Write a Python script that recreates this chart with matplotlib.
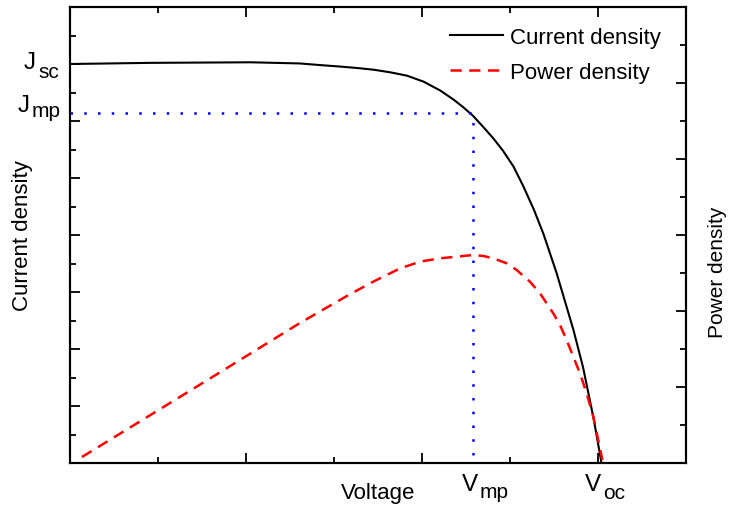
import numpy as np
import matplotlib.pyplot as plt
from matplotlib.ticker import MultipleLocator, NullFormatter

plt.rcParams['font.family'] = ['Liberation Sans', 'DejaVu Sans']

# curva J-V (tensao, densidade de corrente)
tensao_j = [0.0, 0.091, 0.205, 0.261, 0.285, 0.307, 0.326, 0.345, 0.364,
            0.383, 0.402, 0.421, 0.436, 0.447, 0.458, 0.470, 0.481, 0.492,
            0.504, 0.515, 0.527, 0.538, 0.553, 0.572, 0.583, 0.595, 0.604]
corrente = [7.00, 7.02, 7.03, 7.01, 6.98, 6.955, 6.93, 6.90, 6.854,
            6.795, 6.689, 6.532, 6.374, 6.240, 6.09, 5.889, 5.696, 5.479,
            5.20, 4.86, 4.45, 4.02, 3.33, 2.34, 1.68, 0.78, 0.0]

# curva de potencia (eixo da direita)
tensao_p = [0.0136, 0.156, 0.261, 0.318, 0.347, 0.375, 0.398, 0.4205, 0.4394,
            0.4583, 0.4697, 0.481, 0.4962, 0.5076, 0.5227, 0.5341, 0.5417,
            0.5492, 0.5568, 0.5644, 0.5719, 0.5795, 0.5871, 0.5947, 0.605]
potencia = [0.079, 1.09, 1.84, 2.22, 2.40, 2.56, 2.65, 2.693, 2.715,
            2.737, 2.724, 2.693, 2.628, 2.539, 2.385, 2.232, 2.101,
            1.969, 1.816, 1.618, 1.399, 1.180, 0.917, 0.609, 0.04]

# pontos especiais
v_mp = 0.458
j_mp = 6.14
j_sc = 7.02
v_oc = 0.603

fig = plt.figure(figsize=(7.29, 5.06), dpi=100)
ax = fig.add_axes([70/729, 42/506, 616/729, 456/506])
ax2 = ax.twinx()

l1, = ax.plot(tensao_j, corrente, color='black', lw=1.5, label='Current density')
ax.plot([0, v_mp, v_mp], [j_mp, j_mp, 0], color='blue', lw=1.8,
        linestyle=(0, (1, 4.5)))
l2, = ax2.plot(tensao_p, potencia, color='red', lw=1.8,
               linestyle=(0, (4.5, 3)), label='Power density')

ax.set_xlim(0, 0.7)
ax.set_ylim(0, 8)
ax2.set_ylim(0, 6)

ax.xaxis.set_major_locator(MultipleLocator(0.2))
ax.xaxis.set_minor_locator(MultipleLocator(0.1))
ax.yaxis.set_major_locator(MultipleLocator(1))
ax.yaxis.set_minor_locator(MultipleLocator(0.5))
ax2.yaxis.set_major_locator(MultipleLocator(1))
ax2.yaxis.set_minor_locator(MultipleLocator(0.5))
for a in (ax, ax2):
    a.xaxis.set_major_formatter(NullFormatter())
    a.yaxis.set_major_formatter(NullFormatter())
    for s in a.spines.values():
        s.set_linewidth(1.5)

ax.tick_params(which='both', direction='in', top=True, right=False, width=1.3)
ax.tick_params(which='major', length=7)
ax.tick_params(which='minor', length=4)
ax2.tick_params(which='both', direction='in', width=1.3)
ax2.tick_params(which='major', length=7)
ax2.tick_params(which='minor', length=4)

ax.set_xlabel('Voltage', fontsize=16)
ax.xaxis.set_label_coords(0.5, -0.041)
ax.set_ylabel('Current density', fontsize=16)
ax.yaxis.set_label_coords(-0.060, 0.5)
ax2.set_ylabel('Power density', fontsize=15)
ax2.yaxis.set_label_coords(1.036, 0.42)

# rotulos J_sc, J_mp, V_mp, V_oc
def rotulo(xy, coords, dx, dy, txt, tam, ha):
    ax.annotate(txt, xy=xy, xycoords=coords, xytext=(dx, dy),
                textcoords='offset pixels', fontsize=tam, ha=ha, va='baseline')

rotulo((0, j_sc), ('axes fraction', 'data'), -40, -5, 'J', 17.5, 'center')
rotulo((0, j_sc), ('axes fraction', 'data'), -32, -14, 'sc', 15, 'left')
rotulo((0, j_mp), ('axes fraction', 'data'), -46, 2, 'J', 17.5, 'center')
rotulo((0, j_mp), ('axes fraction', 'data'), -38, -3, 'mp', 15, 'left')
rotulo((v_mp, 0), ('data', 'axes fraction'), -3, -27, 'V', 17.5, 'center')
rotulo((v_mp, 0), ('data', 'axes fraction'), 7, -34, 'mp', 15, 'left')
rotulo((v_oc, 0), ('data', 'axes fraction'), -8, -27, 'V', 17.5, 'center')
rotulo((v_oc, 0), ('data', 'axes fraction'), 2, -35, 'oc', 15, 'left')

ax2.legend(handles=[l1, l2], loc='upper left', bbox_to_anchor=(0.617, 0.956),
           frameon=False, fontsize=16, handlelength=2.4, handletextpad=0.3,
           borderpad=0, borderaxespad=0, labelspacing=0.63)

fig.savefig('out.png', dpi=100)
